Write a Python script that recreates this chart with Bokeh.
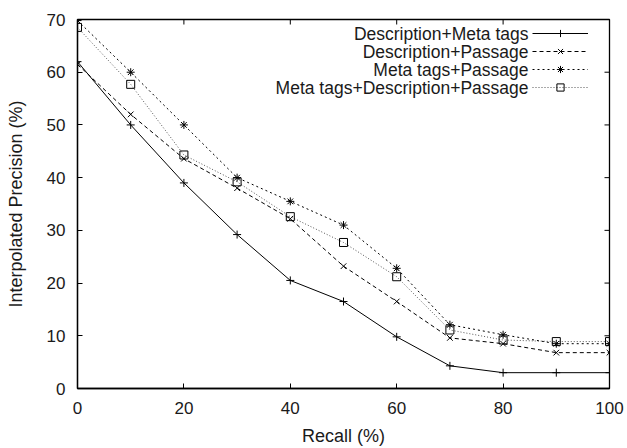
import math
from bokeh.plotting import figure
from bokeh.models import Range1d, FixedTicker, Legend, LegendItem, Label
from bokeh.embed import file_html
from bokeh.resources import INLINE

recall = [0, 10, 20, 30, 40, 50, 60, 70, 80, 90, 100]
desc_meta = [62.0, 50.0, 39.0, 29.2, 20.5, 16.5, 9.8, 4.3, 3.0, 3.0, 3.0]
desc_pass = [61.5, 52.0, 43.6, 38.0, 32.2, 23.2, 16.5, 9.6, 8.5, 6.8, 6.8]
meta_pass = [69.8, 60.0, 50.0, 40.0, 35.5, 31.0, 22.8, 12.1, 10.2, 8.5, 8.5]
meta_desc_pass = [68.5, 57.7, 44.3, 39.2, 32.6, 27.7, 21.2, 11.1, 9.2, 8.9, 8.9]
names = ["Description+Meta tags", "Description+Passage", "Meta tags+Passage",
         "Meta tags+Description+Passage"]
x_ticks = [0, 20, 40, 60, 80, 100]
y_ticks = [0, 10, 20, 30, 40, 50, 60, 70]
X_MIN, X_MAX = 0, 100
Y_MIN, Y_MAX = 0, 70

FONT = "Liberation Sans"
TXT = "#1a1a1a"

p = figure(width=627, height=448, output_backend="svg", toolbar_location=None,
           x_range=Range1d(X_MIN, X_MAX), y_range=Range1d(Y_MIN, Y_MAX),
           min_border_left=77, min_border_right=18, min_border_top=19, min_border_bottom=59)
p.grid.visible = False
p.outline_line_color = "black"
p.outline_line_width = 1.3

for ax in (p.xaxis[0], p.yaxis[0]):
    ax.major_tick_in = 5
    ax.major_tick_out = 0
    ax.minor_tick_line_color = None
    ax.major_label_text_font = FONT
    ax.major_label_text_font_size = "17px"
    ax.major_label_text_color = TXT
    ax.axis_label_text_font = FONT
    ax.axis_label_text_font_size = "18px"
    ax.axis_label_text_font_style = "normal"
    ax.axis_label_text_color = TXT
    ax.axis_line_color = "black"
    ax.axis_line_width = 1.3
p.xaxis[0].ticker = FixedTicker(ticks=x_ticks)
p.yaxis[0].ticker = FixedTicker(ticks=y_ticks)
p.xaxis[0].axis_label = "Recall (%)"
p.yaxis[0].axis_label = "Interpolated Precision (%)"
p.xaxis[0].major_label_standoff = 13
p.yaxis[0].major_label_standoff = 12
p.xaxis[0].axis_label_standoff = 9
p.yaxis[0].axis_label_standoff = 18

# mirrored inward ticks on the top and right edges (half of each dash is clipped)
p.scatter(x_ticks, [Y_MAX] * len(x_ticks), marker="dash", angle=math.pi / 2, size=10,
          line_color="black", line_width=1)
p.scatter([X_MAX] * len(y_ticks), y_ticks, marker="dash", size=10,
          line_color="black", line_width=1)

styles = [
    dict(dash="solid", marker="cross", lc="black"),
    dict(dash="4 3", marker="x", lc="black"),
    dict(dash="2 3", marker="asterisk", lc="black"),
    dict(dash="1 2", marker="square", lc="#555555"),
]
series = [desc_meta, desc_pass, meta_pass, meta_desc_pass]
items = []
for name, ys, st in zip(names, series, styles):
    l = p.line(recall, ys, line_color=st["lc"], line_width=1, line_dash=st["dash"])
    m = p.scatter(recall, ys, marker=st["marker"], size=8, line_color="black",
                  fill_color=None, line_width=1)
    items.append(LegendItem(label="", renderers=[l, m]))

# legend keys (gnuplot style: key sample to the right of a right-aligned title)
leg = Legend(items=items, location=(455, 292), border_line_color=None,
             background_fill_alpha=0, glyph_width=56, glyph_height=18, spacing=0,
             label_standoff=0, label_width=0, label_height=18, padding=0, margin=0,
             label_text_font=FONT, label_text_font_size="10px")
p.add_layout(leg, "center")

for i, name in enumerate(names):
    p.add_layout(Label(x=451, y=355 - 18 * i, x_units="screen", y_units="screen",
                       text=name, text_align="right", text_baseline="middle",
                       text_font=FONT, text_font_size="17.5px", text_color=TXT))

open("out.html", "w").write(file_html(p, INLINE))
